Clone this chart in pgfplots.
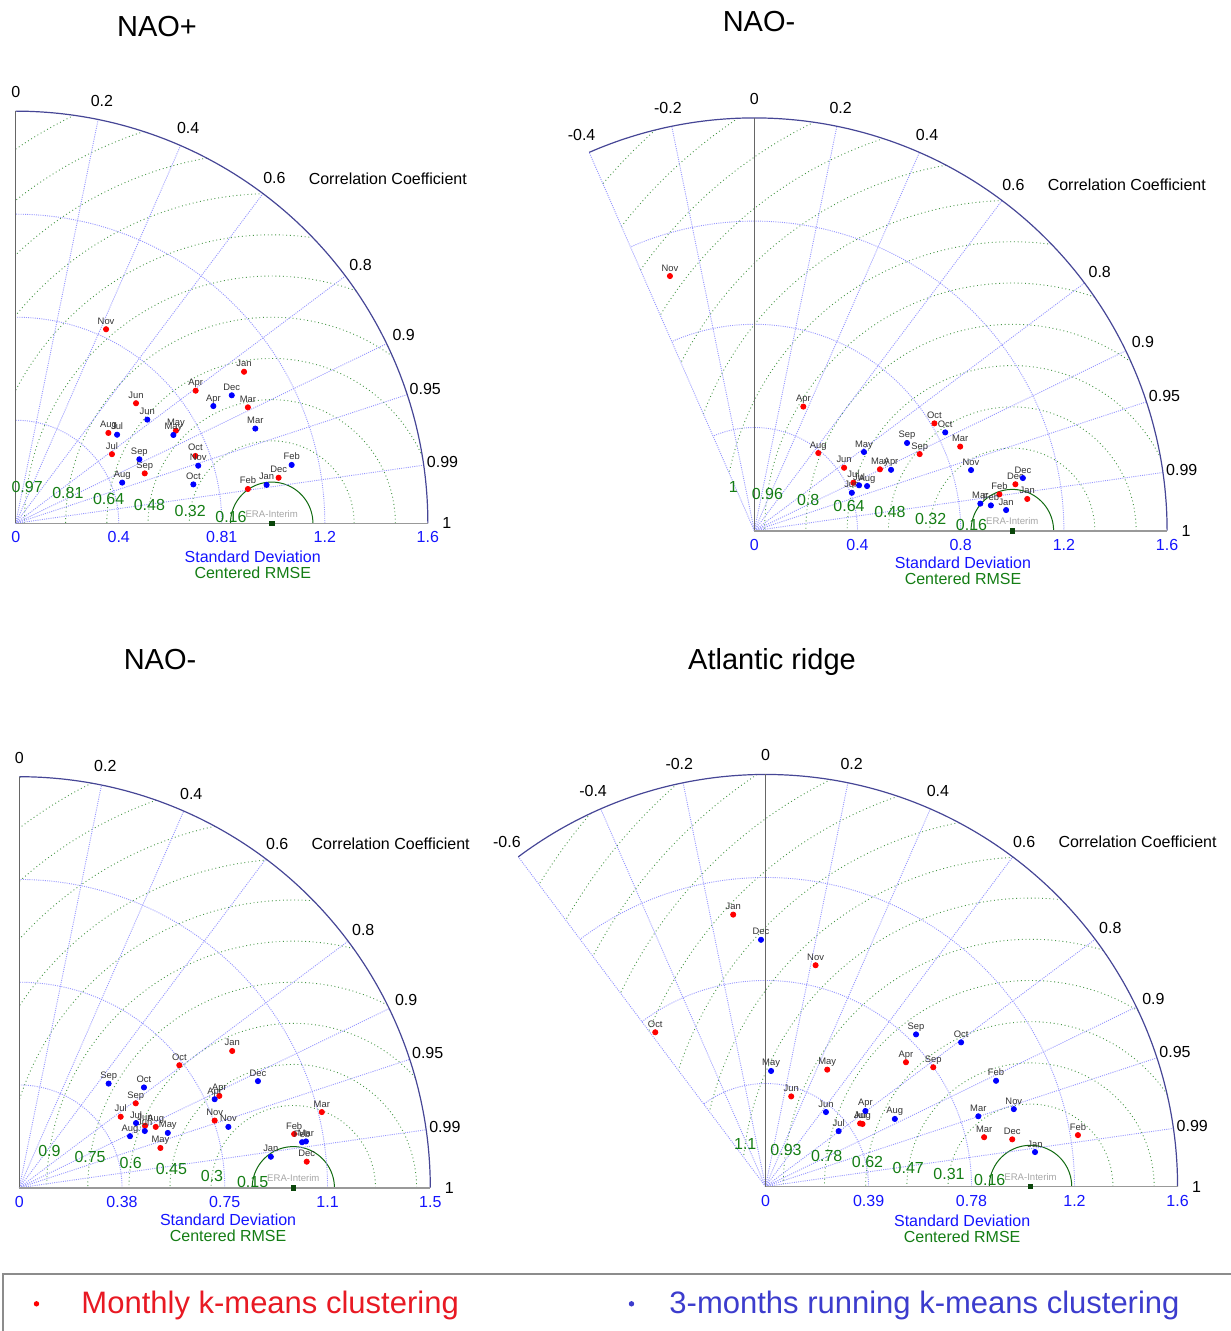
\documentclass[border=0pt]{standalone}
\usepackage{pgfplots}
\pgfplotsset{compat=1.18}
\usepackage{fontspec}
\setmainfont{Liberation Sans}

\definecolor{gridblue}{RGB}{150,150,255}
\definecolor{navyarc}{RGB}{70,70,150}
\definecolor{rmsgreen}{RGB}{20,125,20}
\definecolor{rmslight}{RGB}{70,150,70}
\definecolor{ptred}{RGB}{255,0,0}
\definecolor{ptblue}{RGB}{0,0,255}
\definecolor{stdblue}{RGB}{20,20,255}
\definecolor{legred}{RGB}{232,25,35}
\definecolor{legblue}{RGB}{60,60,205}
\definecolor{leggrey}{RGB}{140,140,140}
\definecolor{refgreen}{RGB}{10,70,10}

\tikzset{
 stdgrid/.style={gridblue, line width=0.45pt, dash pattern=on 0.5pt off 0.6pt},
 rmssolid/.style={rmsgreen!85!black, line width=0.5pt},
 rmsdot/.style={rmslight, line width=0.45pt, dash pattern=on 0.45pt off 1.4pt},
 outerarc/.style={navyarc, line width=0.6pt},
 zeroax/.style={black!60, line width=0.5pt},
 botax/.style={black!40, line width=0.8pt},
 corrlab/.style={font=\fontsize{8}{9}\selectfont, inner sep=0pt, text=black},
 stdlab/.style={font=\fontsize{8}{9}\selectfont, inner sep=0pt, text=stdblue},
 rmslab/.style={font=\fontsize{8}{9}\selectfont, inner sep=0pt, text=rmsgreen},
 eralab/.style={font=\fontsize{4.8}{5}\selectfont, inner sep=0pt, text=black!35},
 ttl/.style={font=\fontsize{14.5}{17}\selectfont, inner sep=0pt},
}

\pgfplotsset{
 taylor/.style={hide axis, clip=false, xmin=-1, xmax=2, ymin=0, ymax=2, anchor=south west, enlargelimits=false},
 monthlbl/.style={nodes near coords, point meta=explicit symbolic,
   every node near coord/.append style={font=\fontsize{4.7}{5}\selectfont, text=black!80, anchor=base, yshift=2.5pt, inner sep=0pt}},
 redpts/.style={only marks, mark=*, mark size=1.3pt, mark options={draw=ptred, fill=ptred}, color=ptred, monthlbl},
 bluepts/.style={only marks, mark=*, mark size=1.3pt, mark options={draw=ptblue, fill=ptblue}, color=ptblue, monthlbl},
 refmark/.style={only marks, mark=square*, mark size=1.1pt, color=refgreen},
}

% one centred-RMSE arc: #1 = max std, #2 = min correlation, #3 = index k, #4 = step
\newcommand\rmsarc[4]{%
  \pgfmathsetmacro\rr{#3*#4}%
  \pgfmathsetmacro\phia{acos(min(1,max(-1,(#1*#1-\rr*\rr-1)/(2*\rr))))}%
  \pgfmathsetmacro\tpar{(#2)+sqrt(max(0,\rr*\rr-1+(#2)*(#2)))}%
  \pgfmathsetmacro\phib{ifthenelse(\rr>1,atan2(\tpar*sqrt(1-(#2)*(#2)),\tpar*(#2)-1),180)}%
  \pgfmathtruncatemacro\arcok{\phia<\phib}%
  \ifnum#3=1 \def\rst{rmssolid}\else\def\rst{rmsdot}\fi
  \ifnum\arcok=1
    \edef\temp{\noexpand\addplot[\rst,domain=\phia:\phib,samples=90] ({1+\rr*cos(x)},{\rr*sin(x)});}%
    \temp
  \fi
}

% background of one Taylor diagram
% #1 = max std, #2 = min corr, #3 = rmse step, #4 = radial lines, #5 = corr labels
\newcommand\taylorbg[5]{%
  \pgfmathsetmacro\amax{acos(#2)}%
  \pgfplotsinvokeforeach{1,...,14}{\rmsarc{#1}{#2}{##1}{#3}}%
  \pgfplotsinvokeforeach{1,2,3}{\addplot[stdgrid,domain=0:\amax,samples=100] ({##1*#1/4*cos(x)},{##1*#1/4*sin(x)});}%
  \pgfplotsinvokeforeach{#4}{\addplot[stdgrid,domain=0:#1,samples=2] ({x*(##1)},{x*sqrt(1-(##1)^2)});}%
  \addplot[outerarc,domain=0:\amax,samples=150] ({#1*cos(x)},{#1*sin(x)});
  \addplot[zeroax] coordinates {(0,0) (0,#1)};
  \addplot[botax] coordinates {(0,0) (#1,0)};
  \pgfplotsinvokeforeach{#5}{\node[corrlab] at (axis cs:{1.046*#1*(##1)},{1.046*#1*sqrt(1-(##1)^2)}) {##1};}%
  \node[corrlab,anchor=west,xshift=17pt] at (axis cs:{1.046*#1*0.6},{1.046*#1*0.8}) {Correlation Coefficient};
  \addplot[refmark] coordinates {(1,0)};
  \node[eralab,yshift=4.6pt] at (axis cs:1,0) {ERA-Interim};
}
\newcommand\rmslab[2]{\node[rmslab] at (axis cs:{1+#1*cos(171.5)},{#1*sin(171.5)}) {#2};}
\newcommand\stdtick[2]{\node[stdlab,yshift=-7pt] at (axis cs:#1,0) {#2};}
\newcommand\axtitles[3]{%
  \node[stdlab,yshift=-#2pt] at (axis cs:#1,0) {Standard Deviation};
  \node[rmslab,yshift=-#3pt] at (axis cs:#1,0) {Centered RMSE};
}

\begin{document}
\begin{tikzpicture}
\useasboundingbox (0pt,0pt) rectangle (615pt,-665.5pt);

\node[ttl] at (78.5pt,-13.5pt) {NAO+};
\node[ttl] at (379.5pt,-11pt) {NAO-};
\node[ttl] at (80pt,-330pt) {NAO-};
\node[ttl] at (386pt,-331pt) {Atlantic ridge};

% ---------------- panel 1 : NAO+ ----------------
\begin{axis}[taylor, x=128pt, y=128pt, at={(-120.15pt,-261.65pt)}]
\taylorbg{1.61}{0}{0.161}{0.2,0.4,0.6,0.8,0.9,0.95,0.99}{0,0.2,0.4,0.6,0.8,0.9,0.95,0.99,1}
\rmslab{0.161}{0.16}\rmslab{0.322}{0.32}\rmslab{0.483}{0.48}
\rmslab{0.644}{0.64}\rmslab{0.805}{0.81}\rmslab{0.966}{0.97}
\stdtick{0}{0}\stdtick{0.4025}{0.4}\stdtick{0.805}{0.81}\stdtick{1.2075}{1.2}\stdtick{1.61}{1.6}
\axtitles{0.926}{16.5}{24.5}
\addplot[redpts] table[meta=l] {
x y l
0.892 0.592 Jan
0.907 0.134 Feb
0.907 0.453 Mar
0.703 0.518 Apr
0.626 0.362 May
0.470 0.469 Jun
0.376 0.270 Jul
0.362 0.353 Aug
0.504 0.195 Sep
0.702 0.263 Oct
0.353 0.758 Nov
1.027 0.178 Dec
};
\addplot[bluepts] table[meta=l] {
x y l
0.980 0.150 Jan
1.078 0.228 Feb
0.936 0.370 Mar
0.772 0.458 Apr
0.616 0.345 May
0.514 0.405 Jun
0.396 0.346 Jul
0.416 0.159 Aug
0.483 0.250 Sep
0.694 0.152 Oct
0.713 0.225 Nov
0.844 0.500 Dec
};
\end{axis}

% ---------------- panel 2 : NAO- (top) ----------------
\begin{axis}[taylor, x=129pt, y=129pt, at={(248.15pt,-265.35pt)}]
\taylorbg{1.6}{-0.4}{0.16}{-0.4,-0.2,0.2,0.4,0.6,0.8,0.9,0.95,0.99}{-0.4,-0.2,0,0.2,0.4,0.6,0.8,0.9,0.95,0.99,1}
\rmslab{0.16}{0.16}\rmslab{0.32}{0.32}\rmslab{0.48}{0.48}
\rmslab{0.64}{0.64}\rmslab{0.8}{0.8}\rmslab{0.96}{0.96}
\node[rmslab] at (axis cs:-0.081,0.171) {1};
\stdtick{0}{0}\stdtick{0.4}{0.4}\stdtick{0.8}{0.8}\stdtick{1.2}{1.2}\stdtick{1.6}{1.6}
\axtitles{0.809}{16}{24}
\addplot[redpts] table[meta=l] {
x y l
1.058 0.123 Jan
0.950 0.141 Feb
0.798 0.326 Mar
0.190 0.481 Apr
0.487 0.238 May
0.348 0.244 Jun
0.384 0.186 Jul
0.248 0.301 Aug
0.641 0.297 Sep
0.698 0.416 Oct
-0.327 0.987 Nov
1.012 0.180 Dec
};
\addplot[bluepts] table[meta=l] {
x y l
0.976 0.080 Jan
0.917 0.098 Feb
0.876 0.105 Mar
0.530 0.236 Apr
0.425 0.305 May
0.378 0.147 Jun
0.406 0.176 Jul
0.437 0.173 Aug
0.592 0.340 Sep
0.740 0.381 Oct
0.840 0.235 Nov
1.041 0.204 Dec
};
\end{axis}

% ---------------- panel 3 : NAO- (bottom) ----------------
\begin{axis}[taylor, x=137pt, y=137pt, at={(-127.35pt,-593.85pt)}]
\taylorbg{1.5}{0}{0.15}{0.2,0.4,0.6,0.8,0.9,0.95,0.99}{0,0.2,0.4,0.6,0.8,0.9,0.95,0.99,1}
\rmslab{0.15}{0.15}\rmslab{0.3}{0.3}\rmslab{0.45}{0.45}
\rmslab{0.6}{0.6}\rmslab{0.75}{0.75}\rmslab{0.9}{0.9}
\stdtick{0}{0}\stdtick{0.375}{0.38}\stdtick{0.75}{0.75}\stdtick{1.125}{1.1}\stdtick{1.5}{1.5}
\axtitles{0.762}{16}{24}
\addplot[redpts] table[meta=l] {
x y l
0.777 0.499 Jan
1.003 0.196 Feb
1.104 0.276 Mar
0.730 0.335 Apr
0.515 0.145 May
0.459 0.226 Jun
0.370 0.259 Jul
0.498 0.222 Aug
0.425 0.308 Sep
0.584 0.447 Oct
0.713 0.245 Nov
1.049 0.095 Dec
};
\addplot[bluepts] table[meta=l] {
x y l
0.918 0.113 Jan
1.032 0.166 Feb
1.046 0.169 Mar
0.713 0.323 Apr
0.542 0.200 May
0.458 0.207 Jun
0.426 0.236 Jul
0.404 0.188 Aug
0.326 0.380 Sep
0.455 0.366 Oct
0.763 0.222 Nov
0.871 0.389 Dec
};
\end{axis}

% ---------------- panel 4 : Atlantic ridge ----------------
\begin{axis}[taylor, x=132.5pt, y=132.5pt, at={(250.25pt,-593.25pt)}]
\taylorbg{1.555}{-0.6}{0.1555}{-0.6,-0.4,-0.2,0.2,0.4,0.6,0.8,0.9,0.95,0.99}{-0.6,-0.4,-0.2,0,0.2,0.4,0.6,0.8,0.9,0.95,0.99,1}
\rmslab{0.1555}{0.16}\rmslab{0.311}{0.31}\rmslab{0.4665}{0.47}
\rmslab{0.622}{0.62}\rmslab{0.7775}{0.78}\rmslab{0.933}{0.93}\rmslab{1.0885}{1.1}
\stdtick{0}{0}\stdtick{0.389}{0.39}\stdtick{0.7775}{0.78}\stdtick{1.166}{1.2}\stdtick{1.555}{1.6}
\axtitles{0.742}{17.25}{25.25}
\addplot[redpts] table[meta=l] {
x y l
-0.122 1.026 Jan
1.179 0.194 Feb
0.825 0.186 Mar
0.530 0.469 Apr
0.233 0.441 May
0.097 0.340 Jun
0.357 0.238 Jul
0.366 0.236 Aug
0.633 0.450 Sep
-0.416 0.582 Oct
0.189 0.835 Nov
0.931 0.178 Dec
};
\addplot[bluepts] table[meta=l] {
x y l
1.017 0.130 Jan
0.870 0.399 Feb
0.803 0.265 Mar
0.377 0.285 Apr
0.021 0.436 May
0.228 0.281 Jun
0.276 0.209 Jul
0.488 0.255 Aug
0.568 0.574 Sep
0.738 0.544 Oct
0.937 0.292 Nov
-0.017 0.931 Dec
};
\end{axis}

% ---------------- legend ----------------
\begin{axis}[hide axis, scale only axis, width=615pt, height=665.5pt,
  at={(0pt,-665.5pt)}, anchor=south west, xmin=0, xmax=1, ymin=0, ymax=1,
  legend columns=2, legend cell align=left,
  legend style={at={(0.00203,0.04358)}, anchor=north west, draw=leggrey, line width=1pt,
    fill=none, inner xsep=0pt, inner ysep=12.2pt,
    font=\fontsize{15.5}{18}\selectfont,
    nodes={inner sep=0pt, text height=0.73em, text depth=0.21em},
    /tikz/every odd column/.style={column sep=0pt},
    /tikz/every even column/.style={column sep=0pt}}]
\addlegendimage{legend image code/.code={\path[draw=none] (0pt,0pt) -- (39pt,0pt); \fill[ptred,draw=none] (16.5pt,2pt) circle (1.35pt);}}
\addlegendentry{\textcolor{legred}{\makebox[248.5pt][l]{Monthly k-means clustering}}}
\addlegendimage{legend image code/.code={\path[draw=none] (0pt,0pt) -- (45.5pt,0pt); \fill[legblue,draw=none] (26.5pt,2pt) circle (1.35pt);}}
\addlegendentry{\textcolor{legblue}{\makebox[300pt][l]{3-months running k-means clustering}}}
\end{axis}
\end{tikzpicture}
\end{document}
